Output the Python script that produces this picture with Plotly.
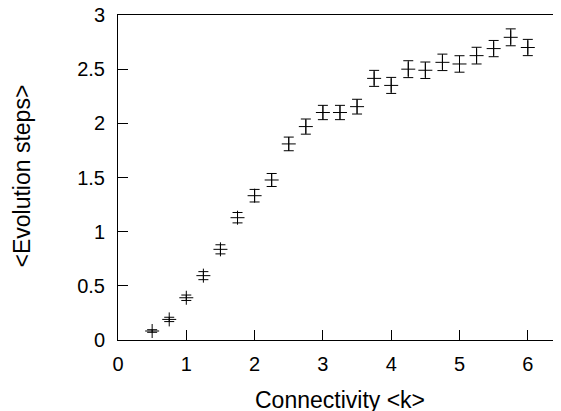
import plotly.graph_objects as go

# Data
connectivity = [0.5, 0.75, 1.0, 1.25, 1.5, 1.75, 2.0, 2.25, 2.5, 2.75, 3.0, 3.25,
                3.5, 3.75, 4.0, 4.25, 4.5, 4.75, 5.0, 5.25, 5.5, 5.75, 6.0]
evolution_steps = [0.083, 0.19, 0.39, 0.594, 0.837, 1.129, 1.332, 1.477, 1.81, 1.97,
                   2.10, 2.10, 2.154, 2.415, 2.35, 2.50, 2.49, 2.563, 2.548, 2.625,
                   2.69, 2.794, 2.70]
errors = [0.012, 0.02, 0.025, 0.037, 0.042, 0.048, 0.058, 0.06, 0.063, 0.07,
          0.066, 0.066, 0.068, 0.074, 0.074, 0.078, 0.076, 0.076, 0.076, 0.077,
          0.075, 0.078, 0.075]

x_ticks = [0, 1, 2, 3, 4, 5, 6]
y_ticks = [0, 0.5, 1, 1.5, 2, 2.5, 3]
x_title = "Connectivity <k>"
y_title = "<Evolution steps>"

FONT = "Liberation Sans, Arial, sans-serif"
# the page body has an 8px default margin, so the figure is drawn 8px in
W, H = 553, 403
ML, MR, MT, MB = 110, 0, 7, 71
px_per_unit = 68.3
x_max = (W - ML - MR) / px_per_unit

fig = go.Figure()
fig.add_trace(go.Scatter(
    x=connectivity, y=evolution_steps,
    mode="markers",
    marker=dict(symbol="cross-thin", size=10, color="black",
                line=dict(color="black", width=1)),
    error_y=dict(type="data", array=errors, visible=True,
                 color="black", thickness=1, width=5),
    showlegend=False,
    hoverinfo="x+y",
))

axis_common = dict(
    showgrid=False, zeroline=False, showline=True, linecolor="black", linewidth=1,
    ticks="inside", ticklen=10, tickwidth=1, tickcolor="black",
    tickfont=dict(family=FONT, size=20, color="black"),
    ticklabeloverflow="allow",
)

fig.update_layout(
    width=W, height=H,
    margin=dict(l=ML, r=MR, t=MT, b=MB, autoexpand=False),
    paper_bgcolor="white", plot_bgcolor="white",
    font=dict(family=FONT, color="black"),
    xaxis=dict(range=[0, x_max], tickvals=x_ticks, mirror=True,
               ticklabelstandoff=6, **axis_common),
    yaxis=dict(range=[0, 3], tickvals=y_ticks, mirror=False,
               ticklabelstandoff=8, **axis_common),
    yaxis2=dict(range=[0, 3], tickvals=y_ticks, overlaying="y", side="right",
                anchor="x", showticklabels=False, showline=False,
                showgrid=False, zeroline=False,
                ticks="inside", ticklen=9, tickwidth=1, tickcolor="black"),
    annotations=[
        dict(text=x_title, xref="paper", yref="paper", x=0.5, y=-0.185,
             xanchor="center", yanchor="middle", showarrow=False,
             font=dict(family=FONT, size=23, color="black")),
        dict(text=y_title, xref="paper", yref="paper", x=-0.2167 + 0.0, y=0.503,
             xanchor="center", yanchor="middle", textangle=-90, showarrow=False,
             font=dict(family=FONT, size=23, color="black")),
    ],
)

fig.write_html("out.html")
